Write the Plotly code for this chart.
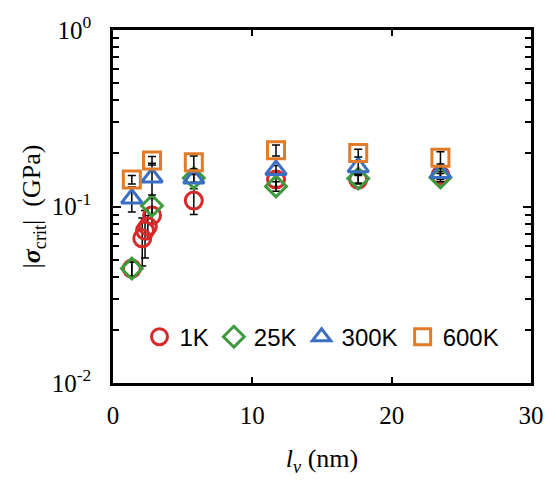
import plotly.graph_objects as go

# Data
lv_1K = [1.35, 2.1, 2.3, 2.5, 2.8, 5.8, 11.7, 17.6, 23.5]
s_1K = [0.0445, 0.066, 0.073, 0.077, 0.089, 0.108, 0.142, 0.142, 0.150]
e_1K = [0.004, 0.020, 0.022, 0.012, 0.010, 0.018, 0.012, 0.008, 0.008]

lv_25K = [1.35, 2.8, 5.8, 11.7, 17.6, 23.5]
s_25K = [0.0445, 0.101, 0.145, 0.130, 0.144, 0.146]
e_25K = [0.004, 0.010, 0.008, 0.008, 0.008, 0.008]

lv_300K = [1.35, 2.8, 5.8, 11.7, 17.6, 23.5]
s_300K = [0.111, 0.146, 0.144, 0.161, 0.167, 0.155]
e_300K = [0.018, 0.030, 0.008, 0.010, 0.012, 0.010]

lv_600K = [1.35, 2.8, 5.8, 11.7, 17.6, 23.5]
s_600K = [0.142, 0.182, 0.178, 0.208, 0.201, 0.189]
e_600K = [0.008, 0.010, 0.015, 0.015, 0.010, 0.015]

names = ["1K", "25K", "300K", "600K"]
colors = ["#d62a2a", "#3d9a3d", "#3a6fc2", "#e07b2a"]
symbols = ["circle-open", "diamond-open", "triangle-up-open", "square-open"]
xs = [lv_1K, lv_25K, lv_300K, lv_600K]
ys = [s_1K, s_25K, s_300K, s_600K]
es = [e_1K, e_25K, e_300K, e_600K]
sizes = [17, 16, 18, 17]

y_major = [0.01, 0.1, 1]
y_major_text = ["10<sup>-2</sup>", "10<sup>-1</sup>", "10<sup>0</sup>"]
y_minor = [0.02, 0.03, 0.04, 0.05, 0.06, 0.07, 0.08, 0.09,
           0.2, 0.3, 0.4, 0.5, 0.6, 0.7, 0.8, 0.9]

fig = go.Figure()
for n, c, sym, x, y, e, sz in zip(names, colors, symbols, xs, ys, es, sizes):
    fig.add_trace(go.Scatter(
        x=x, y=y, mode="markers", name=n,
        marker=dict(symbol=sym, size=sz, color=c, line=dict(color=c, width=3)),
        error_y=dict(type="data", array=e, visible=True, color="black",
                     thickness=1.5, width=4),
    ))

serif = "Liberation Serif, Times New Roman, serif"
fig.update_layout(
    width=556, height=481,
    margin=dict(l=113, r=14, t=17, b=91),
    paper_bgcolor="white", plot_bgcolor="white",
    showlegend=True,
    legend=dict(orientation="h", x=0.5, xanchor="center", y=0.13, yanchor="middle",
                font=dict(family="Liberation Sans, Arial, sans-serif", size=24, color="black"),
                bgcolor="rgba(0,0,0,0)", itemwidth=30, tracegroupgap=0),
    xaxis=dict(range=[0, 30], tickvals=[0, 10, 20, 30], ticks="inside", ticklen=6,
               tickwidth=2, tickcolor="black", showline=True, linecolor="black",
               linewidth=2.5, mirror="allticks", showgrid=False, zeroline=False,
               ticklabelstandoff=8, ticklabeloverflow="allow",
               tickfont=dict(family=serif, size=25, color="black"),
               title=dict(text="<i>l</i><sub><i>v</i></sub> (nm)",
                          font=dict(family=serif, size=26, color="black"), standoff=22)),
    yaxis=dict(type="log", range=[-2, 0], tickvals=y_major, ticktext=y_major_text,
               ticks="inside", ticklen=8, tickwidth=2, tickcolor="black",
               minor=dict(tickvals=y_minor, ticks="inside", ticklen=6, tickwidth=2,
                          tickcolor="black", showgrid=False),
               showline=True, linecolor="black", linewidth=2.5, mirror="allticks",
               showgrid=False, zeroline=False, ticklabelstandoff=14,
               ticklabeloverflow="allow",
               tickfont=dict(family=serif, size=25, color="black"),
               title=dict(text="|<b><i>σ</i></b><sub>crit</sub>|  (GPa)",
                          font=dict(family=serif, size=26, color="black"), standoff=4)),
)

fig.write_html("out.html")
